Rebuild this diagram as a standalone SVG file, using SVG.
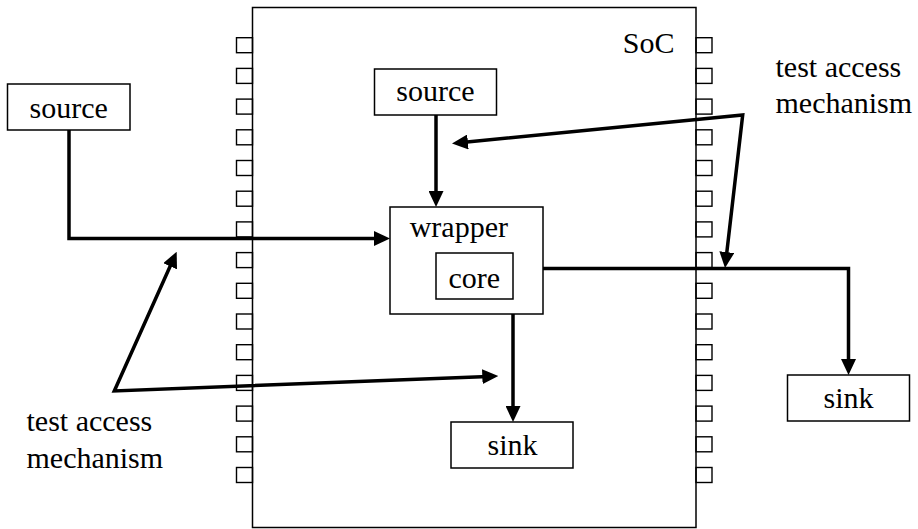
<svg xmlns="http://www.w3.org/2000/svg" width="918" height="529" viewBox="0 0 918 529">
  <style>
    .box { fill: #fff; stroke: #000; stroke-width: 1.5; }
    .frame { fill: none; stroke: #000; stroke-width: 1.5; }
    .pin { fill: #fff; stroke: #000; stroke-width: 1.4; }
    text { font-family: 'Liberation Serif', 'Times New Roman', Times, 'DejaVu Serif', serif; font-size: 30px; fill: #000; }
    .mid { text-anchor: middle; }
    .wire { fill: none; stroke: #000; stroke-width: 3.5; stroke-linejoin: miter; }
  </style>
  <defs>
    <marker id="head" markerUnits="userSpaceOnUse" markerWidth="16" markerHeight="15" refX="6" refY="7.5" orient="auto-start-reverse">
      <path d="M0,0 L16,7.5 L0,15 Z" fill="#000"/>
    </marker>
  </defs>

  <!-- SoC chip outline with pins -->
  <g id="soc">
    <g id="pins-left">
      <rect class="pin" x="236.5" y="37.7" width="16" height="15"/>
      <rect class="pin" x="236.5" y="68.4" width="16" height="15"/>
      <rect class="pin" x="236.5" y="99.1" width="16" height="15"/>
      <rect class="pin" x="236.5" y="129.8" width="16" height="15"/>
      <rect class="pin" x="236.5" y="160.5" width="16" height="15"/>
      <rect class="pin" x="236.5" y="191.2" width="16" height="15"/>
      <rect class="pin" x="236.5" y="221.9" width="16" height="15"/>
      <rect class="pin" x="236.5" y="252.6" width="16" height="15"/>
      <rect class="pin" x="236.5" y="283.3" width="16" height="15"/>
      <rect class="pin" x="236.5" y="314.0" width="16" height="15"/>
      <rect class="pin" x="236.5" y="344.7" width="16" height="15"/>
      <rect class="pin" x="236.5" y="375.4" width="16" height="15"/>
      <rect class="pin" x="236.5" y="406.1" width="16" height="15"/>
      <rect class="pin" x="236.5" y="436.8" width="16" height="15"/>
      <rect class="pin" x="236.5" y="467.5" width="16" height="15"/>
    </g>
    <g id="pins-right">
      <rect class="pin" x="696" y="37.7" width="16" height="15"/>
      <rect class="pin" x="696" y="68.4" width="16" height="15"/>
      <rect class="pin" x="696" y="99.1" width="16" height="15"/>
      <rect class="pin" x="696" y="129.8" width="16" height="15"/>
      <rect class="pin" x="696" y="160.5" width="16" height="15"/>
      <rect class="pin" x="696" y="191.2" width="16" height="15"/>
      <rect class="pin" x="696" y="221.9" width="16" height="15"/>
      <rect class="pin" x="696" y="252.6" width="16" height="15"/>
      <rect class="pin" x="696" y="283.3" width="16" height="15"/>
      <rect class="pin" x="696" y="314.0" width="16" height="15"/>
      <rect class="pin" x="696" y="344.7" width="16" height="15"/>
      <rect class="pin" x="696" y="375.4" width="16" height="15"/>
      <rect class="pin" x="696" y="406.1" width="16" height="15"/>
      <rect class="pin" x="696" y="436.8" width="16" height="15"/>
      <rect class="pin" x="696" y="467.5" width="16" height="15"/>
    </g>
    <rect class="frame" x="252.5" y="7.5" width="443.5" height="520"/>
    <text class="mid" x="648.7" y="53.3">SoC</text>
  </g>

  <g id="source-ext">
    <rect class="box" x="7.5" y="84" width="122.5" height="46"/>
    <text class="mid" x="68.7" y="118.3">source</text>
  </g>

  <g id="source-int">
    <rect class="box" x="374.5" y="69" width="122" height="46"/>
    <text class="mid" x="435.5" y="101">source</text>
  </g>

  <g id="wrapper">
    <rect class="box" x="390" y="207" width="153" height="107"/>
    <text class="mid" x="458.8" y="236.5">wrapper</text>
  </g>

  <g id="core">
    <rect class="box" x="436" y="253" width="77" height="46"/>
    <text class="mid" x="474.3" y="287.5">core</text>
  </g>

  <g id="sink-int">
    <rect class="box" x="451" y="422" width="122" height="46"/>
    <text class="mid" x="512.5" y="455">sink</text>
  </g>

  <g id="sink-ext">
    <rect class="box" x="787.5" y="375" width="122" height="46"/>
    <text class="mid" x="848.5" y="408">sink</text>
  </g>

  <g id="tam-left">
    <text x="26.5" y="431">test access</text>
    <text x="26.5" y="467.5">mechanism</text>
  </g>

  <g id="tam-right">
    <text x="775.5" y="77">test access</text>
    <text x="775.5" y="113">mechanism</text>
  </g>

  <!-- connectors -->
  <g id="connectors">
    <path class="wire" d="M69,130 V238.5 H380" marker-end="url(#head)"/>
    <path class="wire" d="M436,115 V197" marker-end="url(#head)"/>
    <path class="wire" d="M543,268.5 H848.5 V365" marker-end="url(#head)"/>
    <path class="wire" d="M513,314 V412" marker-end="url(#head)"/>
    <path class="wire" d="M461.95,142.52 L742.7,115 L726.15,258.07" marker-start="url(#head)" marker-end="url(#head)"/>
    <path class="wire" d="M172.6,260.8 L114.3,391 L488.3,376.39" marker-start="url(#head)" marker-end="url(#head)"/>
  </g>
</svg>
